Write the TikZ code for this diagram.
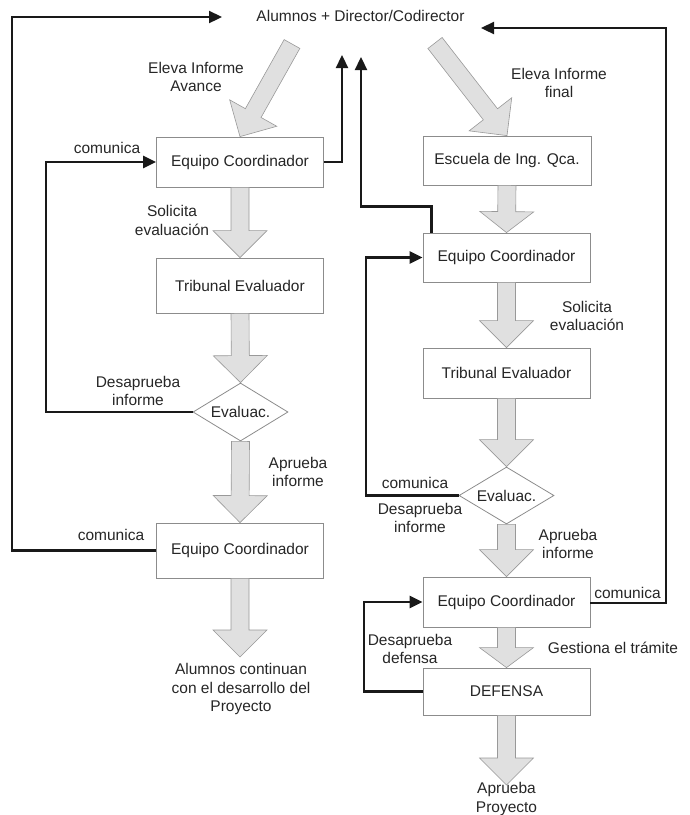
\documentclass[tikz,border=0pt]{standalone}
\usepackage{fontspec}
\setmainfont{Liberation Sans}
\usetikzlibrary{calc,arrows.meta,shapes.geometric}
\newcommand\fatarrow[3][27]{%
\draw[fatarr] ($(#2)!9pt!90:(#3)$) -- ($(#3)!#1pt!(#2)!9pt!90:(#3)$) -- ($(#3)!#1pt!(#2)!27pt!90:(#3)$) -- (#3) -- ($(#3)!#1pt!(#2)!27pt!-90:(#3)$) -- ($(#3)!#1pt!(#2)!9pt!-90:(#3)$) -- ($(#2)!9pt!-90:(#3)$) -- cycle;}
\begin{document}
\begin{tikzpicture}[x=1pt,y=-1pt,
  every node/.style={font=\fontsize{15.5}{18.5}\selectfont, text=black!85},
  box/.style={draw=black!45, line width=0.8pt, fill=white, minimum width=167pt, minimum height=50pt, inner sep=0pt},
  dmd/.style={draw=black!45, line width=0.8pt, fill=white, diamond, aspect=1.64, minimum width=95pt, minimum height=58pt, inner sep=0pt},
  lbl/.style={align=center, inner sep=0pt},
  fatarr/.style={draw=black!40, fill=black!12, line width=0.6pt, line join=miter},
  conn/.style={draw=black!90, line width=2.3pt, line join=miter},
  tip/.style={-{Triangle[length=13pt,width=12pt]}}]
\useasboundingbox (0,0) rectangle (689,815);

% title
\node[lbl] (title) at (360.5,16) {Alumnos + Director/Codirector};

% left column
\node[box, minimum height=50pt] (ec1) at (240,162) {Equipo Coordinador};
\node[box, minimum height=55pt] (trib1) at (240,285.5) {Tribunal Evaluador};
\node[dmd] (diam1) at (240.5,412) {Evaluac.};
\node[box, minimum height=55pt] (ec2) at (240,550.5) {Equipo Coordinador};

% right column
\node[box, minimum width=168pt, minimum height=49pt] (esc) at (507,160.5) {Escuela de Ing. Qca.};
\node[box, minimum height=49pt] (ec3) at (506.5,257.5) {Equipo Coordinador};
\node[box, minimum height=50pt] (trib2) at (506.5,373) {Tribunal Evaluador};
\node[dmd, minimum height=57pt] (diam2) at (506.5,495.5) {Evaluac.};
\node[box, minimum height=50pt] (ec4) at (506.5,602) {Equipo Coordinador};
\node[box, minimum height=47pt] (def) at (506.5,691.5) {DEFENSA};

% free ends
\coordinate (dgL) at (292,44);
\coordinate (dgR) at (435,43);
\coordinate (endL) at (240,657);
\coordinate (endR) at (506.5,785);
\coordinate (tipL) at (222,17);
\coordinate (cL) at (12,17);
\coordinate (tipU1) at (342,55);
\coordinate (tipU2) at (361,57);
\coordinate (tipR) at (481,28);
\coordinate (cR) at (666,28);
\coordinate (xA) at (46,0);
\coordinate (xB) at (366,0);
\coordinate (xC) at (364,0);

% fat grey arrows
\fatarrow{dgL}{ec1.north}
\fatarrow{dgR}{esc.north}
\fatarrow{ec1.south}{trib1.north}
\fatarrow{trib1.south}{diam1.north}
\fatarrow{diam1.south}{ec2.north}
\fatarrow{ec2.south}{endL}
\fatarrow[21]{esc.south}{ec3.north}
\fatarrow{ec3.south}{trib2.north}
\fatarrow{trib2.south}{diam2.north}
\fatarrow{diam2.south}{ec4.north}
\fatarrow[20]{ec4.south}{def.north}
\fatarrow{def.south}{endR}

% black connectors
\draw[conn, tip] (ec2.west) -| (cL) -- (tipL);
\draw[conn, tip] (diam1.west) -| (xA |- ec1.west) -- (ec1.west);
\draw[conn, tip] (ec1.east) -| (tipU1);
\draw[conn, tip] ($(ec3.north west)+(9,0)$) -- ++(0,-26) -| (tipU2);
\draw[conn, tip] ($(ec4.east)+(0,1)$) -| (cR) -- (tipR);
\draw[conn, tip] (diam2.west) -| (xB |- ec3.west) -- (ec3.west);
\draw[conn, tip] (def.west) -| (xC |- ec4.west) -- (ec4.west);

% labels
\node[lbl] (l1) at (196,77) {Eleva Informe\\Avance};
\node[lbl] (l2) at (107,148) {comunica};
\node[lbl] (l3) at (172,220.5) {Solicita\\evaluación};
\node[lbl] (l4) at (138,391) {Desaprueba\\informe};
\node[lbl] (l5) at (298,472) {Aprueba\\informe};
\node[lbl] (l6) at (111,535) {comunica};
\node[lbl] (l7) at (241,689) {Alumnos continuan\\con el desarrollo del\\Proyecto};
\node[lbl] (r1) at (559,83) {Eleva Informe\\final};
\node[lbl] (r2) at (587,316) {Solicita\\evaluación};
\node[lbl] (r3) at (415,483) {comunica};
\node[lbl] (r4) at (420,518) {Desaprueba\\informe};
\node[lbl] (r5) at (568,544) {Aprueba\\informe};
\node[lbl, anchor=base] (r6) at (627.5,598) {comunica};
\node[lbl] (r7) at (410,649) {Desaprueba\\defensa};
\node[lbl] (r8) at (613,648) {Gestiona el trámite};
\node[lbl] (r9) at (506.5,799) {Aprueba\\Proyecto};
\end{tikzpicture}
\end{document}
